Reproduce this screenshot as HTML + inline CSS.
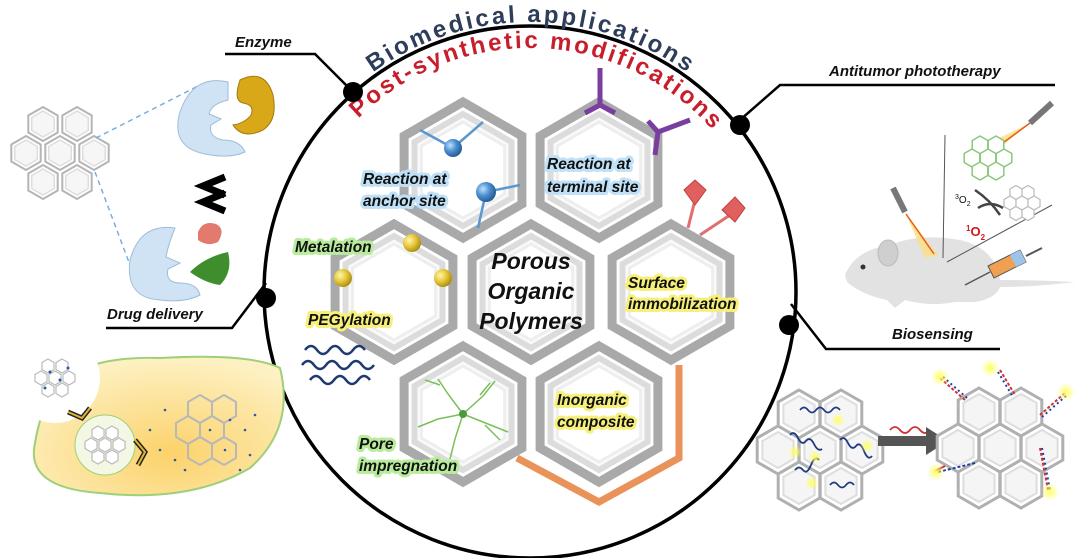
<!DOCTYPE html>
<html><head><meta charset="utf-8"><style>
html,body{margin:0;padding:0;background:#fff}
svg{display:block}
.lab{font-family:"Liberation Sans",sans-serif;font-weight:bold;font-style:italic;}
</style></head><body>
<svg width="1080" height="558" viewBox="0 0 1080 558" xmlns="http://www.w3.org/2000/svg">
<defs>
<g id="hx">
<polygon points="0,-68 58.9,-34 58.9,34 0,68 -58.9,34 -58.9,-34" fill="#fff" stroke="#a9a9a9" stroke-width="9"/>
<polygon points="0,-56 48.5,-28 48.5,28 0,56 -48.5,28 -48.5,-28" fill="#fafafa" stroke="#dcdcdc" stroke-width="6"/>
<polygon points="0,-48 41.6,-24 41.6,24 0,48 -41.6,24 -41.6,-24" fill="#fff" stroke="#eee" stroke-width="3"/>
</g>
<g id="sh">
<polygon points="0,-17 14.7,-8.5 14.7,8.5 0,17 -14.7,8.5 -14.7,-8.5" fill="#fff" stroke="#b5b5b5" stroke-width="2"/>
<polygon points="0,-13 11.3,-6.5 11.3,6.5 0,13 -11.3,6.5 -11.3,-6.5" fill="#f6f6f6" stroke="#ddd" stroke-width="1.5"/>
</g>
<g id="mh">
<polygon points="0,-24 20.8,-12 20.8,12 0,24 -20.8,12 -20.8,-12" fill="#fff" stroke="#b0b0b0" stroke-width="3"/>
<polygon points="0,-18 15.6,-9 15.6,9 0,18 -15.6,9 -15.6,-9" fill="#f5f5f5" stroke="#ddd" stroke-width="2"/>
</g>
<g id="gh"><polygon points="0,-9 7.8,-4.5 7.8,4.5 0,9 -7.8,4.5 -7.8,-4.5" fill="#fff" stroke="#8bc77a" stroke-width="1.5"/></g>
<g id="ghg"><polygon points="0,-7 6,-3.5 6,3.5 0,7 -6,3.5 -6,-3.5" fill="#fff" stroke="#bbb" stroke-width="1.2"/></g>
<radialGradient id="cell" cx="0.55" cy="0.7" r="0.7"><stop offset="0" stop-color="#fcd26a"/><stop offset="1" stop-color="#fdf1c4"/></radialGradient>
<radialGradient id="ball" cx="0.35" cy="0.35" r="0.7"><stop offset="0" stop-color="#fff6b0"/><stop offset="0.5" stop-color="#e8c83a"/><stop offset="1" stop-color="#a88a10"/></radialGradient>
<radialGradient id="bball" cx="0.35" cy="0.35" r="0.7"><stop offset="0" stop-color="#bfe0ff"/><stop offset="0.5" stop-color="#4a8ed0"/><stop offset="1" stop-color="#24578e"/></radialGradient>
<radialGradient id="glow"><stop offset="0" stop-color="#ffff60"/><stop offset="1" stop-color="#ffff60" stop-opacity="0"/></radialGradient>
<path id="arc1" d="M 260,292 A 270,270 0 0 1 800,292"/>
<path id="arc2" d="M 286,292 A 244,244 0 0 1 774,292"/>
</defs>

<circle cx="530" cy="292" r="266" fill="none" stroke="#000" stroke-width="3.5"/>

<text font-family="Liberation Sans,sans-serif" font-weight="bold" font-size="24" fill="#2e3d5a"><textPath href="#arc1" startOffset="50%" text-anchor="middle" textLength="335" lengthAdjust="spacing">Biomedical applications</textPath></text>
<text font-family="Liberation Sans,sans-serif" font-weight="bold" font-size="24" fill="#c81e2c"><textPath href="#arc2" startOffset="51%" text-anchor="middle" textLength="396" lengthAdjust="spacing">Post-synthetic modifications</textPath></text>

<g stroke="#000" stroke-width="2.5" fill="none">
<polyline points="225,54 315,54 353,92"/>
<polyline points="106,328 232,328 266,283"/>
<polyline points="1055,85 780,85 740,120"/>
<polyline points="791,304 826,349 1000,349"/>
</g>
<g fill="#000"><circle cx="353" cy="92" r="10"/><circle cx="266" cy="298" r="10"/><circle cx="740" cy="125" r="10"/><circle cx="789" cy="325" r="10"/></g>

<polyline points="679,365 679,458 599,502 517,458" fill="none" stroke="#e9925a" stroke-width="7"/>

<use href="#hx" x="463" y="170"/>
<use href="#hx" x="599" y="170"/>
<use href="#hx" x="394" y="292"/>
<use href="#hx" x="671" y="292"/>
<use href="#hx" x="463" y="414"/>
<use href="#hx" x="599" y="414"/>
<use href="#hx" x="531" y="292"/>

<g stroke="#5a96d0" stroke-width="2.5"><line x1="420" y1="130" x2="453" y2="148"/><line x1="453" y1="148" x2="483" y2="122"/><line x1="486" y1="192" x2="520" y2="185"/><line x1="486" y1="192" x2="478" y2="228"/></g>
<circle cx="453" cy="148" r="9" fill="url(#bball)"/><circle cx="486" cy="192" r="10" fill="url(#bball)"/>
<g stroke="#7a3ea0" stroke-width="5" fill="none"><line x1="600" y1="68" x2="600" y2="105"/><polyline points="585,113 600,105 615,113"/><line x1="690" y1="120" x2="658" y2="132"/><polyline points="648,121 658,132 655,155"/></g>
<g stroke="#e07070" stroke-width="3"><line x1="688" y1="228" x2="695" y2="200"/><line x1="700" y1="235" x2="730" y2="215"/></g>
<polygon points="695,180 706,190 695,205 684,190" fill="#e06060" stroke="#c04040"/>
<polygon points="735,197 745,208 735,222 722,210" fill="#e06060" stroke="#c04040"/>
<circle cx="412" cy="243" r="9" fill="url(#ball)"/><circle cx="343" cy="278" r="9" fill="url(#ball)"/><circle cx="443" cy="278" r="9" fill="url(#ball)"/>
<g stroke="#1f3a70" stroke-width="2.5" fill="none">
<path d="M305,350 q6,-8 12,0 t12,0 t12,0 t12,0 t12,0"/>
<path d="M302,365 q6,-8 12,0 t12,0 t12,0 t12,0 t12,0 t12,0"/>
<path d="M310,380 q6,-8 12,0 t12,0 t12,0 t12,0 t12,0"/>
</g>
<g stroke="#7bbf5a" stroke-width="1.5" fill="none">
<path d="M463,414 l-15,-20 l-10,-15 M463,414 l20,-18 l12,-15 M463,414 l25,10 l20,8 M463,414 l-8,25 l-5,20 M463,414 l-25,5 l-20,8 M440,385 l-15,-5 M480,395 l10,-12 M485,425 l15,15"/>
</g>
<circle cx="463" cy="414" r="4" fill="#4a9a3a"/>

<g class="lab" font-size="15.5" paint-order="stroke" stroke-width="6" stroke-linejoin="round">
<text x="363" y="184" fill="#111" stroke="#bfe0f7">Reaction at</text>
<text x="363" y="206" fill="#111" stroke="#bfe0f7">anchor site</text>
<text x="547" y="169" fill="#111" stroke="#bfe0f7">Reaction at</text>
<text x="547" y="192" fill="#111" stroke="#bfe0f7">terminal site</text>
<text x="295" y="252" fill="#111" stroke="#b8ec9c">Metalation</text>
<text x="308" y="325" fill="#111" stroke="#f6f07a">PEGylation</text>
<text x="628" y="288" fill="#111" stroke="#f6f07a">Surface</text>
<text x="628" y="309" fill="#111" stroke="#f6f07a">immobilization</text>
<text x="557" y="405" fill="#111" stroke="#f6f07a">Inorganic</text>
<text x="557" y="427" fill="#111" stroke="#f6f07a">composite</text>
<text x="359" y="449" fill="#111" stroke="#b8ec9c">Pore</text>
<text x="359" y="471" fill="#111" stroke="#b8ec9c">impregnation</text>
</g>
<g class="lab" font-size="23" fill="#111" text-anchor="middle">
<text x="531" y="269">Porous</text><text x="531" y="299">Organic</text><text x="531" y="329">Polymers</text>
</g>

<g class="lab" font-size="15" fill="#111">
<text x="235" y="47">Enzyme</text>
<text x="107" y="319">Drug delivery</text>
<text x="829" y="76">Antitumor phototherapy</text>
<text x="892" y="339">Biosensing</text>
</g>

<g transform="translate(60,153)">
<use href="#sh" x="-17" y="-29"/><use href="#sh" x="17" y="-29"/>
<use href="#sh" x="-34" y="0"/><use href="#sh" x="0" y="0"/><use href="#sh" x="34" y="0"/>
<use href="#sh" x="-17" y="29"/><use href="#sh" x="17" y="29"/>
</g>
<g stroke="#7aaee0" stroke-width="1.5" stroke-dasharray="5,4" fill="none"><line x1="96" y1="138" x2="200" y2="85"/><line x1="95" y1="172" x2="130" y2="265"/></g>
<path d="M228,82 q-35,-8 -48,30 q-10,35 25,42 q25,5 40,-2 q-5,-12 -22,-12 q-15,-3 -12,-15 l10,-6 l-12,-5 q2,-10 19,-14 z" fill="#cfe3f5" stroke="#9fbcd8"/>
<path d="M240,80 q25,-12 33,15 q5,25 -10,35 q-20,10 -30,-5 q12,-2 18,-10 q4,-10 -8,-12 q-10,-2 -3,-23 z" fill="#d8a818" stroke="#a07a10"/>
<polyline points="225,177 203,186 225,195" fill="none" stroke="#000" stroke-width="7"/>
<polyline points="225,193 203,202 225,211" fill="none" stroke="#000" stroke-width="7"/>
<path d="M175,228 q-35,-5 -45,32 q-5,38 30,40 q25,3 40,-5 q-3,-12 -20,-12 q-15,0 -12,-14 l12,-6 l-14,-6 q2,-12 9,-29 z" fill="#cfe3f5" stroke="#9fbcd8"/>
<path d="M198,232 q5,-12 18,-8 q10,5 2,18 q-10,5 -20,-2 z" fill="#e27a6e"/>
<path d="M190,272 q15,-15 38,-20 q5,20 -8,33 q-15,-2 -30,-13 z" fill="#3f8e2e"/>

<path d="M50,400 q20,-45 110,-42 q90,-5 120,10 q15,60 -30,100 q-60,35 -150,25 q-75,-5 -65,-50 q5,-30 15,-43 z" fill="url(#cell)" stroke="#9fcf78" stroke-width="2"/>
<circle cx="55" cy="378" r="45" fill="#fff"/>
<g transform="translate(55,378)">
<use href="#ghg" x="-7" y="-12"/><use href="#ghg" x="7" y="-12"/><use href="#ghg" x="-14" y="0"/><use href="#ghg" x="0" y="0"/><use href="#ghg" x="14" y="0"/><use href="#ghg" x="-7" y="12"/><use href="#ghg" x="7" y="12"/>
</g>
<g fill="#2a5aa0"><circle cx="50" cy="372" r="1.5"/><circle cx="60" cy="380" r="1.5"/><circle cx="45" cy="388" r="1.5"/><circle cx="68" cy="368" r="1.5"/></g>
<circle cx="105" cy="445" r="30" fill="#f3f8e4" stroke="#9fcf78"/>
<g transform="translate(105,445)">
<use href="#ghg" x="-7" y="-12"/><use href="#ghg" x="7" y="-12"/><use href="#ghg" x="-14" y="0"/><use href="#ghg" x="0" y="0"/><use href="#ghg" x="14" y="0"/><use href="#ghg" x="-7" y="12"/><use href="#ghg" x="7" y="12"/>
</g>
<polyline points="68,412 82,418 90,408" fill="none" stroke="#222" stroke-width="5"/>
<polyline points="68,412 82,418 90,408" fill="none" stroke="#e2b530" stroke-width="2"/>
<polyline points="135,440 145,452 138,465" fill="none" stroke="#222" stroke-width="5"/>
<polyline points="135,440 145,452 138,465" fill="none" stroke="#e2b530" stroke-width="2"/>
<g stroke="#b8b8b8" stroke-width="2" fill="none">
<polygon points="200,395 212,402 212,416 200,423 188,416 188,402"/><polygon points="224,395 236,402 236,416 224,423 212,416 212,402"/>
<polygon points="188,416 200,423 200,437 188,444 176,437 176,423"/><polygon points="212,416 224,423 224,437 212,444 200,437 200,423"/>
<polygon points="200,437 212,444 212,458 200,465 188,458 188,444"/><polygon points="224,437 236,444 236,458 224,465 212,458 212,444"/>
</g>
<g fill="#2a5aa0"><circle cx="165" cy="410" r="1.3"/><circle cx="150" cy="430" r="1.3"/><circle cx="175" cy="460" r="1.3"/><circle cx="245" cy="430" r="1.3"/><circle cx="250" cy="455" r="1.3"/><circle cx="240" cy="470" r="1.3"/><circle cx="210" cy="430" r="1.3"/><circle cx="230" cy="420" r="1.3"/><circle cx="160" cy="450" r="1.3"/><circle cx="185" cy="470" r="1.3"/><circle cx="255" cy="415" r="1.3"/><circle cx="225" cy="450" r="1.3"/></g>

<path d="M845,275 q10,-25 45,-30 q30,-12 70,-5 q35,8 40,40 q40,0 75,2 q-40,5 -75,5 q-5,12 -25,15 l-20,0 q-25,5 -50,-2 l-10,8 l-8,-8 q-25,-5 -40,-18 z" fill="#e2e2e2"/>
<ellipse cx="888" cy="253" rx="10" ry="13" fill="#cfcfcf" stroke="#bbb"/>
<circle cx="863" cy="267" r="2.5" fill="#333"/>
<line x1="945" y1="135" x2="943" y2="258" stroke="#555" stroke-width="1"/>
<line x1="1052" y1="205" x2="947" y2="262" stroke="#555" stroke-width="1"/>
<line x1="893" y1="188" x2="905" y2="212" stroke="#777" stroke-width="6"/>
<polygon points="905,212 938,255 925,258" fill="#fde080" opacity="0.8"/>
<line x1="906" y1="214" x2="934" y2="254" stroke="#e85a20" stroke-width="1.5"/>
<line x1="1052" y1="103" x2="1030" y2="123" stroke="#777" stroke-width="6"/>
<polygon points="1030,123 1000,148 995,140" fill="#fde080" opacity="0.8"/>
<line x1="1030" y1="123" x2="1000" y2="145" stroke="#e85a20" stroke-width="1.5"/>
<g transform="translate(988,158)"><use href="#gh" x="-8" y="-13"/><use href="#gh" x="8" y="-13"/><use href="#gh" x="-16" y="0"/><use href="#gh" x="0" y="0"/><use href="#gh" x="16" y="0"/><use href="#gh" x="-8" y="13"/><use href="#gh" x="8" y="13"/></g>
<g transform="translate(1022,203)"><use href="#ghg" x="-6" y="-10.5"/><use href="#ghg" x="6" y="-10.5"/><use href="#ghg" x="-12" y="0"/><use href="#ghg" x="0" y="0"/><use href="#ghg" x="12" y="0"/><use href="#ghg" x="-6" y="10.5"/><use href="#ghg" x="6" y="10.5"/></g>
<path d="M975,190 q15,10 25,25" fill="none" stroke="#444" stroke-width="2.5"/>
<path d="M978,208 q12,-8 25,0" fill="none" stroke="#444" stroke-width="2.5"/>
<text x="955" y="203" font-family="Liberation Sans,sans-serif" font-size="10" fill="#111"><tspan font-size="7" dy="-4">3</tspan><tspan dy="4">O</tspan><tspan font-size="7" dy="3">2</tspan></text>
<text x="966" y="236" font-family="Liberation Sans,sans-serif" font-weight="bold" font-size="13" fill="#d01a1a"><tspan font-size="8" dy="-5">1</tspan><tspan dy="5">O</tspan><tspan font-size="8" dy="4">2</tspan></text>
<line x1="965" y1="285" x2="990" y2="272" stroke="#555" stroke-width="1.5"/>
<polygon points="988,266 1020,250 1026,262 994,278" fill="#f0a050" stroke="#555"/>
<polygon points="1010,255 1020,250 1026,262 1016,267" fill="#9cc4e8"/>
<line x1="1026" y1="256" x2="1042" y2="248" stroke="#555" stroke-width="2"/>

<g transform="translate(820,450)">
<use href="#mh" x="-21" y="-36"/><use href="#mh" x="21" y="-36"/><use href="#mh" x="-42" y="0"/><use href="#mh" x="0" y="0"/><use href="#mh" x="42" y="0"/><use href="#mh" x="-21" y="36"/><use href="#mh" x="21" y="36"/>
</g>
<g stroke="#1f3a80" stroke-width="1.8" fill="none">
<path d="M800,410 q4,-5 8,0 t8,0 t8,0 t8,0 t8,0"/><path d="M790,435 q4,-5 8,3 t8,3 t8,3 t8,5"/><path d="M840,440 q4,-5 8,3 t8,3 t8,5 t8,5"/><path d="M795,470 q4,-5 8,0 t8,-5 t8,-5"/><path d="M830,485 q4,-5 8,0 t8,0 t8,0"/>
</g>
<g fill="url(#glow)"><circle cx="838" cy="420" r="7"/><circle cx="795" cy="452" r="7"/><circle cx="815" cy="457" r="7"/><circle cx="867" cy="446" r="7"/><circle cx="812" cy="483" r="7"/></g>
<path d="M890,450 q5,-6 10,0 t10,0 t10,0 t10,0" fill="none" stroke="#d03030" stroke-width="1.8" transform="translate(0,-20)"/>
<rect x="878" y="436" width="50" height="10" fill="#555"/>
<polygon points="926,427 948,441 926,455" fill="#555"/>
<g transform="translate(1000,448)">
<use href="#mh" x="-21" y="-36"/><use href="#mh" x="21" y="-36"/><use href="#mh" x="-42" y="0"/><use href="#mh" x="0" y="0"/><use href="#mh" x="42" y="0"/><use href="#mh" x="-21" y="36"/><use href="#mh" x="21" y="36"/>
</g>
<g stroke-width="2" fill="none">
<line x1="965" y1="400" x2="940" y2="378" stroke="#d03030" stroke-dasharray="3,2"/><line x1="967" y1="398" x2="942" y2="376" stroke="#2040a0" stroke-dasharray="2,3"/>
<line x1="1000" y1="370" x2="1015" y2="395" stroke="#d03030" stroke-dasharray="3,2"/><line x1="998" y1="372" x2="1013" y2="397" stroke="#2040a0" stroke-dasharray="2,3"/>
<line x1="1040" y1="415" x2="1065" y2="393" stroke="#d03030" stroke-dasharray="3,2"/><line x1="1042" y1="417" x2="1067" y2="395" stroke="#2040a0" stroke-dasharray="2,3"/>
<line x1="1040" y1="448" x2="1048" y2="490" stroke="#d03030" stroke-dasharray="3,2"/><line x1="1042" y1="448" x2="1050" y2="490" stroke="#2040a0" stroke-dasharray="2,3"/>
<line x1="945" y1="466" x2="935" y2="471" stroke="#d03030"/><line x1="975" y1="463" x2="938" y2="472" stroke="#2040a0" stroke-dasharray="3,2"/>
</g>
<g fill="url(#glow)"><circle cx="940" cy="377" r="9"/><circle cx="990" cy="368" r="9"/><circle cx="1066" cy="392" r="9"/><circle cx="1050" cy="492" r="9"/><circle cx="936" cy="472" r="9"/></g>
</svg>
</body></html>
